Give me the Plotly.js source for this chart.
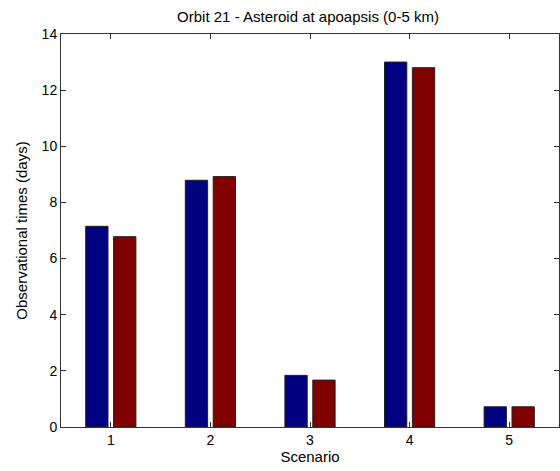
<!DOCTYPE html>
<html>
<head>
<meta charset="utf-8">
<script src="https://cdn.plot.ly/plotly-3.0.1.min.js"></script>
<style>html,body{margin:0;padding:0;background:#fff;}#chart{width:560px;height:471px;}</style>
</head>
<body>
<div id="chart"></div>
<script>
const scenarios = [1, 2, 3, 4, 5];
const seriesA = [7.15, 8.79, 1.84, 13.0, 0.72];
const seriesB = [6.78, 8.92, 1.67, 12.80, 0.72];
const yTicks = [0, 2, 4, 6, 8, 10, 12, 14];

const FONT = 'Liberation Sans, Arial, sans-serif';
const lineStyle = {color: '#222', width: 1};
const traces = [
  {type: 'bar', x: scenarios, y: seriesA, name: 'A', marker: {color: '#000080', line: lineStyle}},
  {type: 'bar', x: scenarios, y: seriesB, name: 'B', marker: {color: '#800000', line: lineStyle}}
];
const axisCommon = {
  showline: true, linecolor: '#333', linewidth: 1, mirror: 'ticks',
  ticks: 'inside', ticklen: 5, tickcolor: '#333', showgrid: false, zeroline: false,
  tickfont: {family: FONT, size: 14, color: '#000'}
};
const layout = {
  width: 560, height: 471,
  margin: {l: 61, r: 1, t: 34, b: 44},
  paper_bgcolor: '#fff', plot_bgcolor: '#fff',
  showlegend: false,
  barmode: 'group', bargap: 0.44, bargroupgap: 0.2,
  title: {text: 'Orbit 21 - Asteroid at apoapsis (0-5 km)', x: 0.55, xanchor: 'center', y: 0.965, yanchor: 'middle',
    font: {family: FONT, size: 15, color: '#000'}},
  xaxis: Object.assign({}, axisCommon, {
    range: [0.5, 5.5], tickvals: scenarios, ticktext: scenarios.map(String),
    title: {text: 'Scenario', standoff: 2, font: {family: FONT, size: 15, color: '#000'}}
  }),
  yaxis: Object.assign({}, axisCommon, {
    range: [0, 14], tickvals: yTicks, ticktext: yTicks.map(String),
    title: {text: 'Observational times (days)', standoff: 10, font: {family: FONT, size: 15, color: '#000'}}
  })
};
Plotly.newPlot('chart', traces, layout, {displayModeBar: false, staticPlot: true});
</script>
</body>
</html>
